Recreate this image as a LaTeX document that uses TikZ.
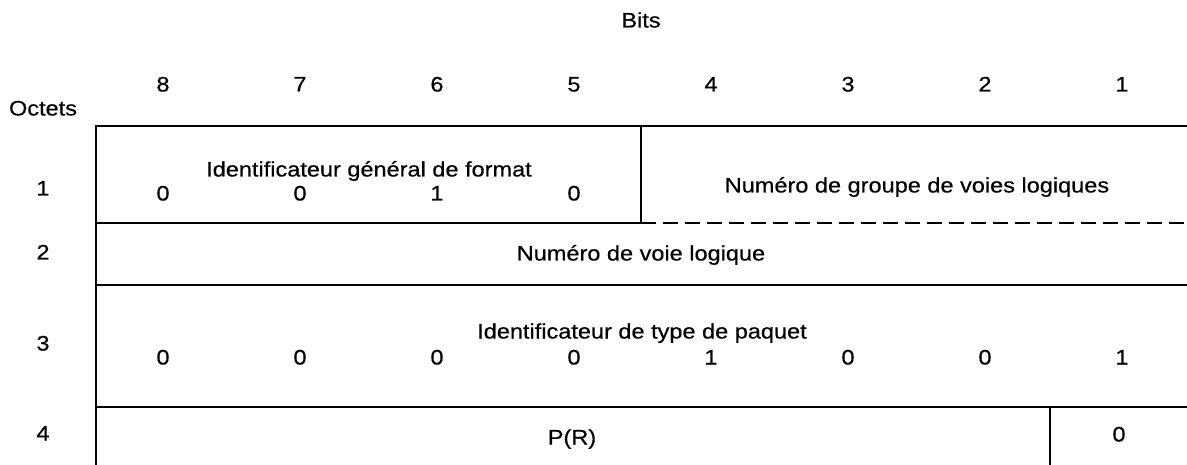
\documentclass[tikz,border=0pt]{standalone}
\usepackage{fontspec}
\setmainfont[FakeStretch=1.12,FakeBold=0.5]{Liberation Sans}
\begin{document}
\begin{tikzpicture}[x=1pt,y=-1pt,
  lbl/.style={inner sep=0pt, anchor=base, font=\fontsize{21}{21}\selectfont},
  rule/.style={line width=2pt},
  thin/.style={line width=1.4pt},
  dashrule/.style={line width=2pt, dash pattern=on 15pt off 7pt}]
\useasboundingbox (0,0) rectangle (1187,465);
% title
\node[lbl] (bits) at (641,27.5) {Bits};
\node[lbl] (octets) at (43,115.5) {Octets};
% header bit numbers
\foreach \k/\b in {0/8,1/7,2/6,3/5,4/4,5/3,6/2,7/1}
  \node[lbl] (h\b) at ({163+137*\k},91.5) {\b};
% row labels
\node[lbl] (r1) at (43,195.5) {1};
\node[lbl] (r2) at (43,259.5) {2};
\node[lbl] (r3) at (43,350.5) {3};
\node[lbl] (r4) at (43,440.5) {4};
% grid
\draw[rule] (96,126) -- (1191,126);
\draw[rule] (96,223) -- (641,223);
\draw[dashrule] (641,223) -- (1191,223);
\draw[rule] (96,285) -- (1191,285);
\draw[rule] (96,407) -- (1191,407);
\draw[rule] (96,125) -- (96,466);
\draw[thin] (641,126) -- (641,223);
\draw[thin] (1050,407) -- (1050,466);
% row 1
\node[lbl] (igf) at (369,176.5) {Identificateur général de format};
\foreach \k/\v in {0/0,1/0,2/1,3/0}
  \node[lbl] (a\k) at ({163+137*\k},200.5) {\v};
\node[lbl] (ngvl) at (917,192.5) {Numéro de groupe de voies logiques};
% row 2
\node[lbl] (nvl) at (641,260.5) {Numéro de voie logique};
% row 3
\node[lbl] (itp) at (642,338.5) {Identificateur de type de paquet};
\foreach \k/\v in {0/0,1/0,2/0,3/0,4/1,5/0,6/0,7/1}
  \node[lbl] (c\k) at ({163+137*\k},364.5) {\v};
% row 4
\node[lbl] (pr) at (572,444.5) {P(R)};
\node[lbl] (z4) at (1119,441.5) {0};
\end{tikzpicture}
\end{document}
